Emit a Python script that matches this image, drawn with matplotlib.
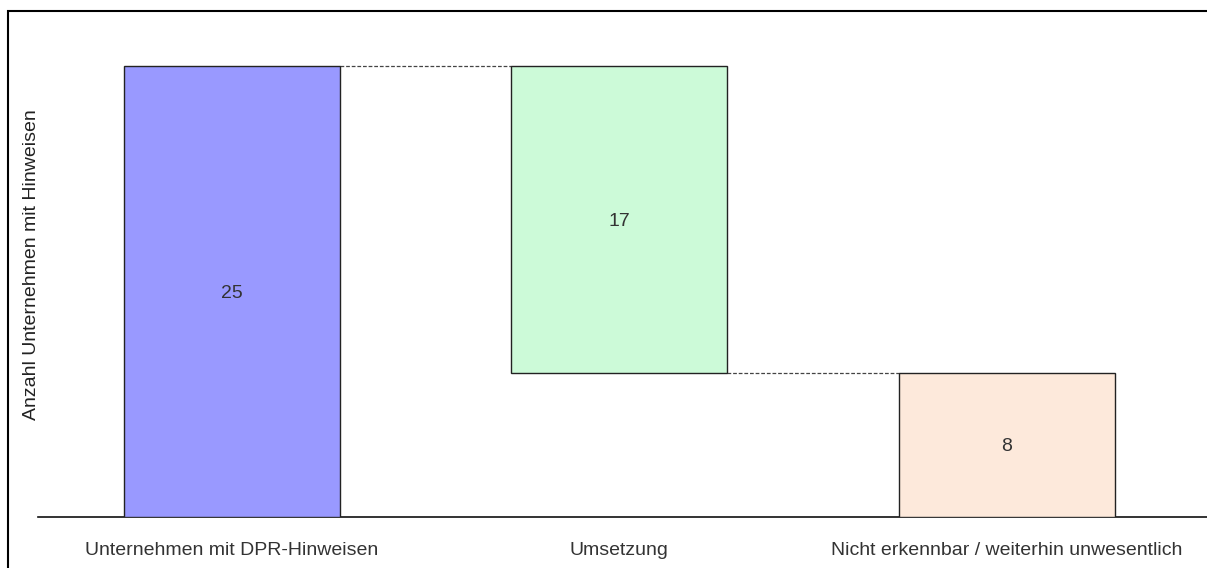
import matplotlib.pyplot as plt
from matplotlib.patches import Rectangle

plt.rcParams['font.family'] = ['Liberation Sans', 'DejaVu Sans']

categories = ['Unternehmen mit DPR-Hinweisen', 'Umsetzung',
              'Nicht erkennbar / weiterhin unwesentlich']
steps = [25, -17, 8]          # start, change, result
is_total = [True, False, True]
colors = ['#9999FF', '#CCFAD8', '#FDE9DB']

# waterfall geometry from the steps
bottoms, heights, levels = [], [], []
running = 0
for s, tot in zip(steps, is_total):
    if tot:
        bottoms.append(0)
        heights.append(s)
        running = s
    else:
        new = running + s
        bottoms.append(min(running, new))
        heights.append(abs(s))
        running = new
    levels.append(running)

fig = plt.figure(figsize=(12.07, 5.68), dpi=100)
ax = fig.add_axes([38 / 1207, 1 - 517 / 568, 1 - 38 / 1207, (517 - 30) / 568])

w = 0.557
x = list(range(len(categories)))
ax.bar(x, heights, bottom=bottoms, width=w, color=colors,
       edgecolor='#222222', linewidth=1.0, zorder=3)

for xi, b, h in zip(x, bottoms, heights):
    ax.text(xi, b + h / 2, str(h), ha='center', va='center_baseline',
            fontsize=14, color='#333333')

# connector lines
for i in range(len(x) - 1):
    ax.plot([x[i] + w / 2, x[i + 1] - w / 2], [levels[i], levels[i]], ls=(0, (3, 1.5)),
            color='#444444', lw=0.9, zorder=2)

ax.set_xlim(-0.5, 2.516)
ax.set_ylim(0, (517 - 30) / 18.04)
ax.set_xticks(x)
ax.set_xticklabels(categories, fontsize=14, color='#333333')
ax.tick_params(axis='x', length=0, pad=18)
ax.set_yticks([])
for s in ['top', 'right', 'left']:
    ax.spines[s].set_visible(False)
ax.spines['bottom'].set_linewidth(1.2)
ax.spines['bottom'].set_color('#111111')

fig.text(32 / 1207, 1 - 265 / 568, 'Anzahl Unternehmen mit Hinweisen', rotation=90,
         ha='center', va='center', fontsize=14, color='#222222')

# outer frame
fig.patches.append(Rectangle((8 / 1207, -0.1), 1.2, 1 - 11 / 568 + 0.1,
                             transform=fig.transFigure, fill=False,
                             edgecolor='black', linewidth=1.5))

fig.savefig('out.png', dpi=100)
